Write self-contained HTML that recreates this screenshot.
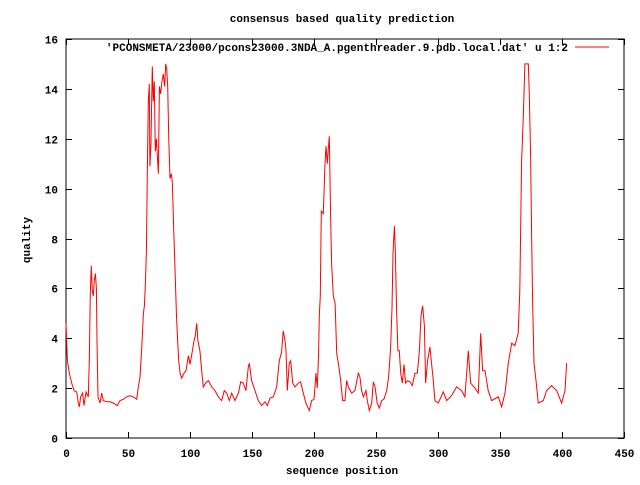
<!DOCTYPE html>
<html><head><meta charset="utf-8"><style>
body{margin:0;background:#fff}
svg text{font-family:"Liberation Mono",monospace;font-size:11px;font-weight:bold;fill:#000}
</style></head><body>
<svg id="chart" width="640" height="480" xmlns="http://www.w3.org/2000/svg">
<rect x="0" y="0" width="640" height="480" fill="#fff"/>
<text x="342" y="22" text-anchor="middle">consensus based quality prediction</text>
<text x="342" y="474" text-anchor="middle">sequence position</text>
<text x="30" y="240" text-anchor="middle" transform="rotate(-90 30 240)">quality</text>
<g id="axes"></g>
<g id="series"></g>
<text x="568" y="51" text-anchor="end">'PCONSMETA/23000/pcons23000.3NDA_A.pgenthreader.9.pdb.local.dat' u 1:2</text>
<line x1="575" y1="47" x2="609" y2="47" stroke="#f00" stroke-width="1"/>
</svg>
<script>
const xTicks=[0,50,100,150,200,250,300,350,400,450];
const yTicks=[0,2,4,6,8,10,12,14,16];
const xs=[0,1.1,2.7,4.6,6.5,8.6,9.9,10.8,11.8,13.4,14.5,16.1,18,18.8,19.6,20.4,21.2,22,22.8,23.7,24.5,25,25.8,27.4,28.8,30.1,32.8,35.5,38.2,41.4,43.5,46.2,48.9,51.6,54.3,57,58.3,59.7,61,62.4,63.2,64,64.8,65.6,66.4,67.2,67.7,68.5,69.6,70.4,71.2,72,72.9,74,74.5,75.3,76.3,77.4,78.5,79.6,80.4,81.2,82,82.8,83.9,85,85.8,86.8,87.9,89,89.8,90.9,92,93.3,95.2,96.8,98.7,100,101.9,103.2,104.3,105.4,106.4,108,109.4,110.7,112.6,114.8,117.5,120.2,122.8,125.5,127.7,129.6,131.7,133.6,136.3,139,140.9,143,145.1,147,147.8,149.7,152.4,155.1,157.8,160.5,162.3,164.5,167.2,169.9,172,173.9,175.2,176.6,177.4,178.5,180.1,181.2,182.8,184.7,187.3,189.2,191.4,193.5,196.2,198.1,200,201.6,202.7,203.7,204.3,205.1,205.9,207.5,208.9,209.7,210.7,211.5,212.3,213.4,214.2,215.6,217,218.3,220.1,221.5,223.1,225,226.3,227.7,230.4,233,235.7,237,238.4,239.8,241.9,243,244.6,246.5,247.8,249.2,251,252.7,254.5,256.4,258.6,260.2,261.8,262.9,263.7,264.8,265.6,266.6,267.7,268.8,269.9,271.2,272.6,273.9,275.5,277.4,279.3,281.4,283.3,285,286.3,287.6,289,290,291.6,293.5,296.2,297.5,300.2,304.3,307,311,315,319,321.7,324.4,326.3,329.8,332.5,334.4,336,337.9,340.5,343.2,348.6,351.3,354,356.7,359.4,362,364.7,366,367.4,368.8,370.1,372.8,373.6,374.7,375.5,376.3,377.4,379,380.9,384.9,387.6,391.6,395.7,399.7,402.4,403.7];
const ys=[4.6,3.1,2.6,2.2,1.9,1.85,1.4,1.25,1.65,1.8,1.3,1.85,1.65,3.1,5.8,6.9,5.9,5.7,6.3,6.6,6.0,3.9,1.65,1.4,1.8,1.5,1.45,1.45,1.4,1.3,1.5,1.55,1.65,1.7,1.65,1.55,2.05,2.45,3.5,5.0,5.3,6.2,7.5,10.6,13.5,14.2,10.9,11.7,14.9,13.5,14.3,11.5,12.0,11.0,10.6,14.1,13.8,14.3,14.6,14.1,15.0,14.8,14.1,12.1,10.4,10.6,10.2,8.5,6.8,5.0,4.1,3.1,2.6,2.4,2.6,2.7,3.3,2.95,3.5,3.9,4.1,4.6,3.9,3.5,2.7,2.05,2.2,2.3,2.05,1.9,1.65,1.5,1.9,1.8,1.5,1.8,1.5,1.8,2.25,2.2,1.9,2.85,3.0,2.3,1.9,1.5,1.3,1.45,1.3,1.6,1.65,2.05,3.1,3.45,4.3,3.9,3.5,1.9,3.0,3.1,2.2,2.05,2.2,2.25,1.8,1.4,1.1,1.5,1.55,2.6,2.0,3.4,4.9,5.7,9.1,9.0,11.0,11.7,11.0,11.6,12.1,8.9,7.0,5.7,5.4,3.4,2.85,2.3,1.5,1.5,2.3,2.05,1.8,1.9,2.6,2.45,1.9,1.65,1.9,1.5,1.1,1.4,2.25,2.05,1.4,1.2,1.5,1.55,1.9,2.45,3.6,5.2,7.4,8.5,7.5,5.1,3.5,3.5,2.6,2.2,2.95,2.2,2.3,2.25,2.1,2.6,2.6,3.5,4.9,5.3,4.5,2.2,3.1,3.65,2.3,1.5,1.4,1.85,1.5,1.7,2.05,1.9,1.65,3.5,2.2,2.0,1.8,4.2,2.7,2.7,1.9,1.5,1.65,1.25,1.8,3.0,3.8,3.7,4.2,5.9,11.1,12.9,15.0,15.0,13.8,11.3,8.2,5.5,3.0,2.3,1.4,1.5,1.9,2.1,1.9,1.4,1.9,3.0];
const X0=66,X1=624,Y0=438,Y1=39;
const sx=v=>X0+(v-0)/(450-0)*(X1-X0);
const sy=v=>Y0-(v-0)/(16-0)*(Y0-Y1);
const NS="http://www.w3.org/2000/svg";
const axes=document.getElementById('axes');
function mk(tag,attrs,parent){const e=document.createElementNS(NS,tag);for(const k in attrs)e.setAttribute(k,attrs[k]);parent.appendChild(e);return e;}
const frame=mk('rect',{x:X0,y:Y1,width:X1-X0,height:Y0-Y1,fill:'none',stroke:'#000','stroke-width':1},axes);


xTicks.forEach(t=>{
  const x=Math.round(sx(t))+0.5;
  const a=mk('line',{x1:x,y1:Y0,x2:x,y2:Y0-6,stroke:'#000'},axes);
  
  
  const b=mk('line',{x1:x,y1:Y1,x2:x,y2:Y1+6,stroke:'#000'},axes);
  
  
  const l=mk('text',{x:x,y:Y0+19,'text-anchor':'middle'},axes);l.textContent=t;
  
  
});
yTicks.forEach(t=>{
  const y=Math.round(sy(t))+0.5;
  const a=mk('line',{x1:X0,y1:y,x2:X0+6,y2:y,stroke:'#000'},axes);
  
  
  const b=mk('line',{x1:X1,y1:y,x2:X1-6,y2:y,stroke:'#000'},axes);
  
  
  const l=mk('text',{x:X0-8,y:y+4,'text-anchor':'end'},axes);l.textContent=t;
  
  
});
const pts=xs.map((x,i)=>sx(x).toFixed(1)+','+sy(ys[i]).toFixed(1)).join(' ');
const line=mk('polyline',{points:pts,fill:'none',stroke:'#f00','stroke-width':1},document.getElementById('series'));


</script>
</body></html>
